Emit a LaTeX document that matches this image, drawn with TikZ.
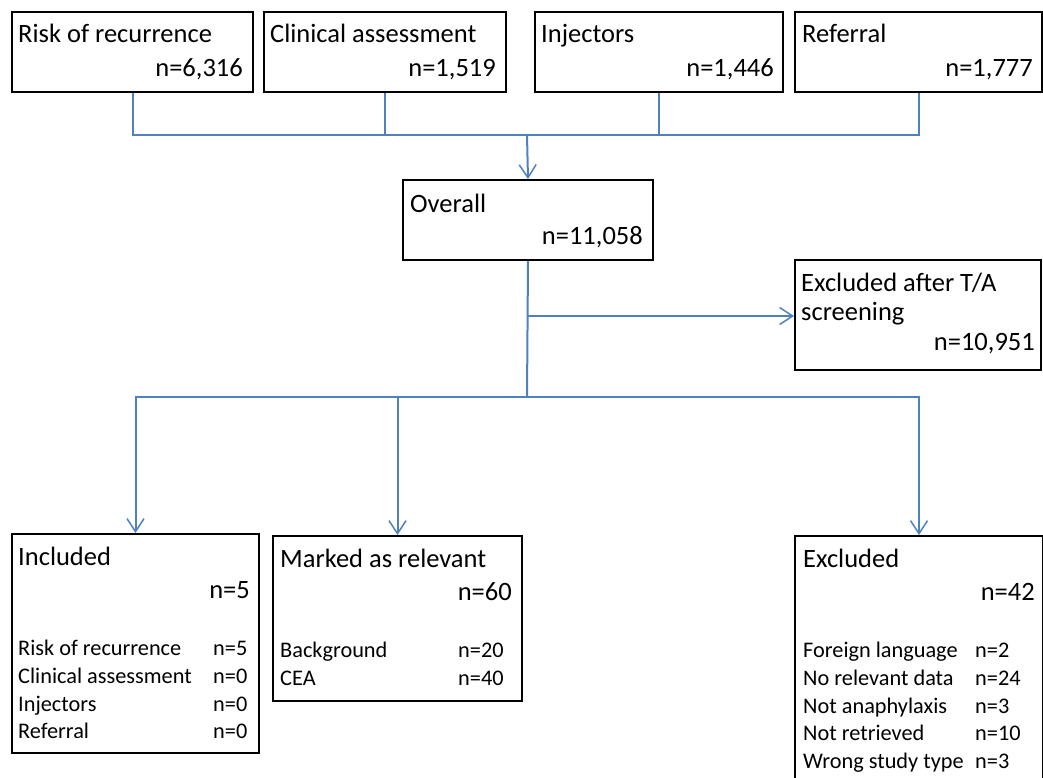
\documentclass[tikz,border=0pt]{standalone}
\usepackage{fontspec}
\setmainfont{Carlito}
\usetikzlibrary{arrows.meta}
\definecolor{flowblue}{RGB}{79,129,189}
\tikzset{
  box/.style={draw=black, line width=2pt, anchor=north west, inner sep=0pt},
  flow/.style={draw=flowblue, line width=2pt},
  flowarrow/.style={flow, -{Straight Barb[length=13pt,width=17pt,line width=1.5pt]}},
  head/.style={font=\fontsize{26.5}{30}\selectfont, inner sep=0pt},
  small/.style={font=\fontsize{22.3}{26}\selectfont, inner sep=0pt},
}

\begin{document}
\begin{tikzpicture}[x=1pt,y=-1pt]
\useasboundingbox (0,0) rectangle (1043,778);
\clip (0,0) rectangle (1043,778);

% Source boxes
\node[box, minimum width=241pt, minimum height=80pt] (risk) at (11,11) {};
\node[head, anchor=base west] (riskT) at (18,43) {Risk of recurrence};
\node[head, anchor=base east] (riskN) at (243,77) {n=6,316};
\node[box, minimum width=242pt, minimum height=80pt] (clin) at (263,11) {};
\node[head, anchor=base west] (clinT) at (270,43) {Clinical assessment};
\node[head, anchor=base east] (clinN) at (496,77) {n=1,519};
\node[box, minimum width=248pt, minimum height=80pt] (inj) at (534,11) {};
\node[head, anchor=base west] (injT) at (541,43) {Injectors};
\node[head, anchor=base east] (injN) at (774,77) {n=1,446};
\node[box, minimum width=247pt, minimum height=80pt] (ref) at (794,11) {};
\node[head, anchor=base west] (refT) at (802,43) {Referral};
\node[head, anchor=base east] (refN) at (1033,77) {n=1,777};

% Overall
\node[box, minimum width=250pt, minimum height=80pt] (overall) at (402,179) {};
\node[head, anchor=base west] (overallT) at (410,212) {Overall};
\node[head, anchor=base east] (overallN) at (643,244) {n=11,058};

% Excluded after title/abstract screening
\node[box, minimum width=246pt, minimum height=110pt] (tabox) at (794,259) {};
\node[head, anchor=base west] (taT1) at (801,291) {Excluded after T/A};
\node[head, anchor=base west] (taT2) at (801,320) {screening};
\node[head, anchor=base east] (taN) at (1035,350) {n=10,951};

% Included
\node[box, minimum width=247pt, minimum height=219pt] (incl) at (11,533) {};
\node[head, anchor=base west] (inclT) at (18,565) {Included};
\node[head, anchor=base east] (inclN) at (250,598) {n=5};
\node[small, anchor=base west] (inclA) at (18,655) {Risk of recurrence};
\node[small, anchor=base west] (inclB) at (18,683) {Clinical assessment};
\node[small, anchor=base west] (inclC) at (18,711) {Injectors};
\node[small, anchor=base west] (inclD) at (18,738) {Referral};
\node[small, anchor=base west] (inclAn) at (213,655) {n=5};
\node[small, anchor=base west] (inclBn) at (213,683) {n=0};
\node[small, anchor=base west] (inclCn) at (213,711) {n=0};
\node[small, anchor=base west] (inclDn) at (213,738) {n=0};

% Marked as relevant
\node[box, minimum width=249pt, minimum height=165pt] (marked) at (272,535) {};
\node[head, anchor=base west] (markedT) at (280,567) {Marked as relevant};
\node[head, anchor=base east] (markedN) at (512,600) {n=60};
\node[small, anchor=base west] (markedA) at (280,657) {Background};
\node[small, anchor=base west] (markedB) at (280,685) {CEA};
\node[small, anchor=base west] (markedAn) at (458,657) {n=20};
\node[small, anchor=base west] (markedBn) at (458,685) {n=40};

% Excluded
\node[box, minimum width=248pt, minimum height=270pt] (excl) at (794,535) {};
\node[head, anchor=base west] (exclT) at (803,567) {Excluded};
\node[head, anchor=base east] (exclN) at (1035,600) {n=42};
\node[small, anchor=base west] (exclA) at (803,657) {Foreign language};
\node[small, anchor=base west] (exclB) at (803,685) {No relevant  data};
\node[small, anchor=base west] (exclC) at (803,713) {Not anaphylaxis};
\node[small, anchor=base west] (exclD) at (803,740) {Not retrieved};
\node[small, anchor=base west] (exclE) at (803,768) {Wrong study type};
\node[small, anchor=base west] (exclAn) at (975,657) {n=2};
\node[small, anchor=base west] (exclBn) at (975,685) {n=24};
\node[small, anchor=base west] (exclCn) at (975,713) {n=3};
\node[small, anchor=base west] (exclDn) at (975,740) {n=10};
\node[small, anchor=base west] (exclEn) at (975,768) {n=3};

% Connectors
\coordinate (topbus) at (527,135);
\coordinate (split) at (527,316);
\coordinate (midbus) at (527,397);
\draw[flow] (risk.south) |- (topbus) -| (ref.south);
\draw[flow] (clin.south) -- (clin.south |- topbus);
\draw[flow] (inj.south) -- (inj.south |- topbus);
\draw[flowarrow] (topbus) -- (overall.north);
\draw[flow] (overall.south) -- (midbus);
\draw[flowarrow] (split) -- (split -| tabox.west);
\draw[flowarrow] (midbus) -| (incl.north);
\draw[flowarrow] (midbus) -| (excl.north);
\draw[flowarrow] (marked.north |- midbus) -- (marked.north);
\end{tikzpicture}
\end{document}
